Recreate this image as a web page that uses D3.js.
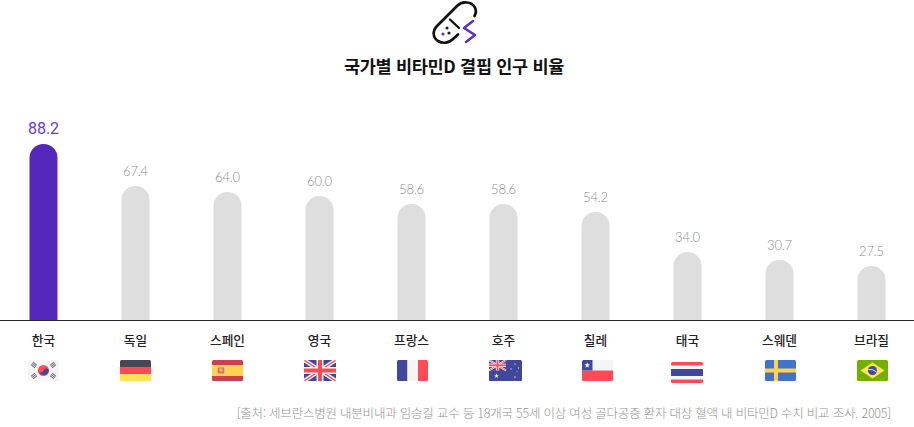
<!DOCTYPE html>
<html lang="ko"><head><meta charset="utf-8">
<script src="https://cdn.jsdelivr.net/npm/d3@7/dist/d3.min.js"></script>
<style>
html,body{margin:0;padding:0;background:#fff}
svg{display:block}
text{font-family:"Noto Sans CJK KR","Noto Sans",sans-serif}
</style></head><body>
<svg id="c" width="914" height="427"></svg>
<script>
const categories=["한국","독일","스페인","영국","프랑스","호주","칠레","태국","스웨덴","브라질"];
const values=[88.2,67.4,64.0,60.0,58.6,58.6,54.2,34.0,30.7,27.5];
// bar heights as drawn in the picture (they differ slightly from the printed labels)
const drawnValues=[88,67,64,62,58,58,54,34,30,27];
const flags=["kr","de","es","gb","fr","au","cl","th","se","br"];
const titleText="국가별 비타민D 결핍 인구 비율";
const sourceText="[출처: 세브란스병원 내분비내과 임승길 교수 등 18개국 55세 이상 여성 골다공증 환자 대상 혈액 내 비타민D 수치 비교 조사. 2005]";

const svg=d3.select("#c");
const x=d3.scaleBand().domain(categories).range([-2.5,917.5]).paddingInner(0).paddingOuter(0);
const y=d3.scaleLinear().domain([0,100]).range([320,120]);
const barW=28;

function barPath(cx,top,bottom,w){
  const r=w/2;
  return `M${cx-r},${bottom}V${top+r}A${r},${r} 0 0 1 ${cx+r},${top+r}V${bottom}Z`;
}
const cx=d=>x(d)+x.bandwidth()/2;

// icon
const ic=svg.append("g").attr("fill","none").attr("stroke-linecap","round").attr("stroke-linejoin","round");
ic.append("path").attr("d","M474.5,16 C478,10 474,3 467,2.5 C463,2 460,3 457,6 L437,26 C432,31 433,38 438,41 C443,44 449,43 453,39 L458,34.5").attr("stroke","#111").attr("stroke-width",2.7);
ic.append("path").attr("d","M450,19.5 L459,28").attr("stroke","#111").attr("stroke-width",2.3);
ic.append("path").attr("d","M473,21 L464,28 L475,35 L466,42").attr("stroke","#5a2fc2").attr("stroke-width",2.5);
[[447,28,"#222"],[449,33,"#222"],[443,34,"#5a2fc2"]].forEach(p=>ic.append("circle").attr("cx",p[0]).attr("cy",p[1]).attr("r",1.6).attr("fill",p[2]));

svg.append("text").attr("x",454).attr("y",73).attr("text-anchor","middle").attr("font-size",17.5).attr("font-weight",700).attr("fill","#111").attr("letter-spacing",-0.3).text(titleText);

// bars
svg.append("g").selectAll("path").data(categories).join("path")
  .attr("d",(d,i)=>barPath(cx(d),y(drawnValues[i]),y(0),barW))
  .attr("fill",(d,i)=>i===0?"#5527bb":"#dedede");

// value labels
svg.append("g").selectAll("text").data(categories).join("text")
  .attr("x",cx).attr("y",(d,i)=>y(drawnValues[i])-10)
  .attr("text-anchor","middle")
  .style("font-family",(d,i)=>i===0?"Roboto,sans-serif":"Lato,sans-serif")
  .attr("font-size",(d,i)=>i===0?16:13)
  .attr("font-weight",(d,i)=>i===0?400:300)
  .attr("letter-spacing",(d,i)=>i===0?0:-0.2)
  .attr("fill",(d,i)=>i===0?"#6a3ad6":"#8c8c8c")
  .text((d,i)=>values[i].toFixed(1));

// baseline + axis labels
const axis=d3.axisBottom(x).tickSize(0).tickPadding(0);
const ax=svg.append("g").attr("transform","translate(0,320)").call(axis);
ax.select(".domain").attr("d","M0,0.5H914").attr("stroke","#2b2b2b").attr("stroke-width",1);
ax.selectAll("text").attr("y",25).attr("dy",0).attr("font-size",12.7).attr("font-weight",500).attr("fill","#222")
  .style("font-family",'"Noto Sans CJK KR",sans-serif');

// flags
const defs=svg.append("defs");
const fh=21;
function star(g,cx,cy,r,c){
  const pts=d3.range(10).map(i=>{const a=-Math.PI/2+i*Math.PI/5,q=i%2?r*0.42:r;return [cx+q*Math.cos(a),cy+q*Math.sin(a)].join(",")}).join(" ");
  g.append("polygon").attr("points",pts).attr("fill",c);
}
function rect(g,x0,y0,w,h,c){g.append("rect").attr("x",x0).attr("y",y0).attr("width",w).attr("height",h).attr("fill",c)}
const R="#ff4b55",B="#41479b",W="#f5f5f5";
const draw={
 kr(g){rect(g,0,0,31,21,W);
  [[6,5,40],[25,5,-40],[6,16,-40],[25,16,40]].forEach(t=>{g.append("g").attr("transform",`translate(${t[0]},${t[1]}) rotate(${t[2]})`).call(s=>{[-1.6,0,1.6].forEach(o=>rect(s,-2.6,o-.5,5.2,1,"#6e6e78"))})});
  g.append("circle").attr("cx",15.5).attr("cy",10.5).attr("r",5.5).attr("fill",R);
  g.append("path").attr("d","M10.2,9.5 A2.7,2.7 0 0 0 15.5,10.5 A2.7,2.7 0 0 1 20.8,11.5 A5.5,5.5 0 0 1 10.2,9.5Z").attr("fill",B);},
 de(g){rect(g,0,0,31,7,"#464655");rect(g,0,7,31,7,R);rect(g,0,14,31,7,"#ffe15a");},
 es(g){rect(g,0,0,31,21,"#c8414b");rect(g,0,5,31,11,"#ffd250");
  rect(g,6,7.5,6,6,"#d9705a");rect(g,7.5,8.5,3,3,"#f5c060");rect(g,4.8,8,1.2,5.5,"#e8b0a0");rect(g,12,8,1.2,5.5,"#e8b0a0");},
 gb(g){rect(g,0,0,32,21,B);
  g.append("path").attr("d","M0,0L32,21M32,0L0,21").attr("stroke",W).attr("stroke-width",4);
  g.append("path").attr("d","M0,0L32,21M32,0L0,21").attr("stroke",R).attr("stroke-width",1.4);
  rect(g,12.5,0,7,21,W);rect(g,0,7,32,7,W);rect(g,14,0,4,21,R);rect(g,0,8.5,32,4,R);},
 fr(g){rect(g,0,0,10.5,21,B);rect(g,10.5,0,10.5,21,W);rect(g,21,0,10,21,R);},
 au(g){rect(g,0,0,33,21,B);
  const u=g.append("g");
  u.append("path").attr("d","M0,0L17,10.5M17,0L0,10.5").attr("stroke",W).attr("stroke-width",2);
  u.append("path").attr("d","M0,0L17,10.5M17,0L0,10.5").attr("stroke",R).attr("stroke-width",.8);
  rect(u,6.8,0,3.4,10.5,W);rect(u,0,3.6,17,3.4,W);rect(u,7.6,0,1.8,10.5,R);rect(u,0,4.4,17,1.8,R);
  star(g,7.5,16,2.4,W);
  [[26,4,1],[29.5,8,1],[22,9,1],[26,17,1.1],[28,11.5,.7]].forEach(s=>star(g,s[0],s[1],s[2],W));},
 cl(g){rect(g,0,0,31,10.5,W);rect(g,0,10.5,31,10.5,R);rect(g,0,0,10.5,10.5,B);star(g,5.2,5.2,3,W);},
 th(g){rect(g,0,0,32,21,W);rect(g,0,0,32,3.5,R);rect(g,0,17.5,32,3.5,R);rect(g,0,7,32,7,B);},
 se(g){rect(g,0,0,31,21,"#4173cd");rect(g,9,0,4,21,"#ffd250");rect(g,0,8.5,31,4,"#ffd250");},
 br(g){rect(g,0,0,31,21,"#73af00");
  g.append("polygon").attr("points","15.5,2.5 27.5,10.5 15.5,18.5 3.5,10.5").attr("fill","#ffe15a");
  g.append("circle").attr("cx",15.5).attr("cy",10.5).attr("r",4.5).attr("fill",B);
  g.append("path").attr("d","M11.5,9.5Q16,8.8 19.7,12").attr("stroke",W).attr("stroke-width",.9).attr("fill","none");}
};
const flagLeft=[28,120,212,304,397,489,582,671,765,857];
const flagTop=[360,360,360,360,360,360,360,362,360,360];
const flagW=[31,31,31,32,31,33,31,32,31,31];
flags.forEach((f,i)=>{
  const id="clip-"+f;
  defs.append("clipPath").attr("id",id).append("rect").attr("width",flagW[i]).attr("height",fh).attr("rx",1.5);
  const g=svg.append("g").attr("transform",`translate(${flagLeft[i]},${flagTop[i]})`).attr("clip-path",`url(#${id})`);
  draw[f](g);
});

svg.append("text").attr("x",891).attr("y",418).attr("text-anchor","end").attr("font-size",12.5).attr("font-weight",300).attr("fill","#949494").attr("letter-spacing",-0.22).text(sourceText);
</script></body></html>
